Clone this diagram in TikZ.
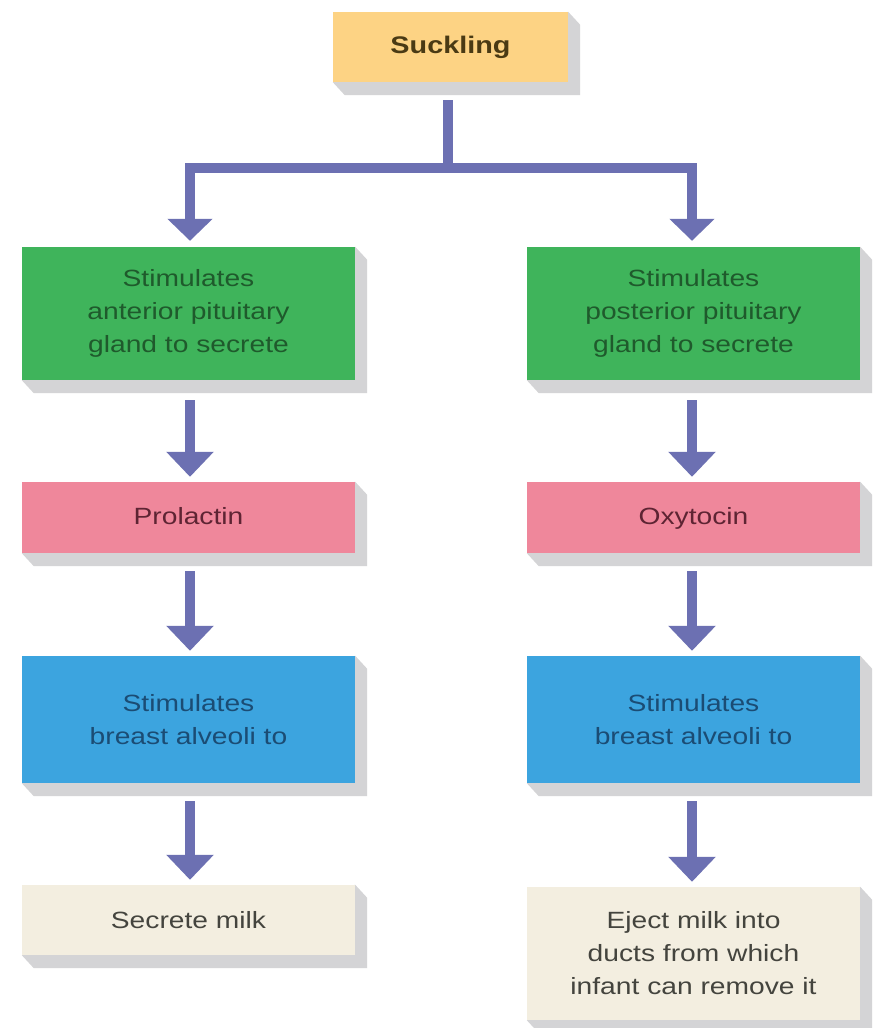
\documentclass[tikz,border=0pt]{standalone}
\usepackage{fontspec}
\setmainfont[FakeStretch=1.2]{Liberation Sans}
\usetikzlibrary{arrows.meta,backgrounds}
\definecolor{arrc}{HTML}{6C70B2}
\definecolor{shad}{HTML}{D4D4D6}
\definecolor{yel}{HTML}{FDD384}
\definecolor{grn}{HTML}{3FB45B}
\definecolor{pnk}{HTML}{EF879B}
\definecolor{blu}{HTML}{3CA4DF}
\definecolor{bei}{HTML}{F3EEE0}
\definecolor{tyel}{HTML}{4A3A14}
\definecolor{tgrn}{HTML}{1F5A2C}
\definecolor{tpnk}{HTML}{5E2433}
\definecolor{tblu}{HTML}{1B4C74}
\definecolor{tbei}{HTML}{44443E}
\tikzset{
  box/.style={rectangle, inner sep=0pt, minimum width=333pt, align=center,
    font=\fontsize{23.5}{33}\selectfont},
  arr/.style={draw=arrc, line width=10pt, -{Triangle[width=46pt,length=25pt]}},
  arrboth/.style={draw=arrc, line width=10pt, line join=miter,
    {Triangle[width=44pt,length=22pt]}-{Triangle[width=44pt,length=22pt]}},
  bar/.style={draw=arrc, line width=10pt},
}
\newcommand{\shadowof}[1]{%
  \fill[shad] (#1.south west) -- ([xshift=12pt,yshift=-13pt]#1.south west)
    -- ([xshift=12pt,yshift=-13pt]#1.south east)
    -- ([xshift=12pt,yshift=-13pt]#1.north east) -- (#1.north east) -- cycle;}
\begin{document}
\begin{tikzpicture}[x=1pt,y=-1pt]
\useasboundingbox (0,0) rectangle (878,1028);
% nodes
\node[box, minimum width=235pt, minimum height=70pt, fill=yel, text=tyel,
  font=\fontsize{24}{30}\selectfont\bfseries] (s) at (450.5,47) {Suckling};
\node[box, minimum height=133pt, fill=grn, text=tgrn] (g1) at (188.5,313.5)
  {Stimulates\\anterior pituitary\\gland to secrete};
\node[box, minimum height=133pt, fill=grn, text=tgrn] (g2) at (693.5,313.5)
  {Stimulates\\posterior pituitary\\gland to secrete};
\node[box, minimum height=71pt, fill=pnk, text=tpnk] (p1) at (188.5,517.5) {\strut Prolactin};
\node[box, minimum height=71pt, fill=pnk, text=tpnk] (p2) at (693.5,517.5) {\strut Oxytocin};
\node[box, minimum height=127pt, fill=blu, text=tblu] (b1) at (188.5,719.5)
  {Stimulates\\breast alveoli to};
\node[box, minimum height=127pt, fill=blu, text=tblu] (b2) at (693.5,719.5)
  {Stimulates\\breast alveoli to};
\node[box, minimum height=70pt, fill=bei, text=tbei] (e1) at (188.5,920) {Secrete milk};
\node[box, minimum height=133pt, fill=bei, text=tbei] (e2) at (693.5,953.5)
  {Eject milk into\\ducts from which\\infant can remove it};
% shadows
\begin{scope}[on background layer]
  \fill[white] (0,0) rectangle (878,1028);
  \shadowof{s}\shadowof{g1}\shadowof{g2}\shadowof{p1}\shadowof{p2}
  \shadowof{b1}\shadowof{b2}\shadowof{e1}\shadowof{e2}
\end{scope}
% connectors
\coordinate (jL) at ([xshift=1.5pt]g1.north |- 0,168);
\coordinate (jR) at ([xshift=-1.5pt]g2.north |- 0,168);
\coordinate (jS) at ([xshift=-3pt]s.south |- 0,168);
\draw[bar] ([xshift=-3pt,yshift=-18pt]s.south) -- (jS);
\draw[arrboth] ([xshift=1.5pt,yshift=6pt]g1.north) -- (jL) -- (jR) -- ([xshift=-1.5pt,yshift=6pt]g2.north);
\draw[arr] ([xshift=1.5pt,yshift=-20pt]g1.south) -- ([xshift=1.5pt,yshift=5pt]p1.north);
\draw[arr] ([xshift=-1.5pt,yshift=-20pt]g2.south) -- ([xshift=-1.5pt,yshift=5pt]p2.north);
\draw[arr] ([xshift=1.5pt,yshift=-18pt]p1.south) -- ([xshift=1.5pt,yshift=5pt]b1.north);
\draw[arr] ([xshift=-1.5pt,yshift=-18pt]p2.south) -- ([xshift=-1.5pt,yshift=5pt]b2.north);
\draw[arr] ([xshift=1.5pt,yshift=-18pt]b1.south) -- ([xshift=1.5pt,yshift=5pt]e1.north);
\draw[arr] ([xshift=-1.5pt,yshift=-18pt]b2.south) -- ([xshift=-1.5pt,yshift=5pt]e2.north);
\end{tikzpicture}
\end{document}
